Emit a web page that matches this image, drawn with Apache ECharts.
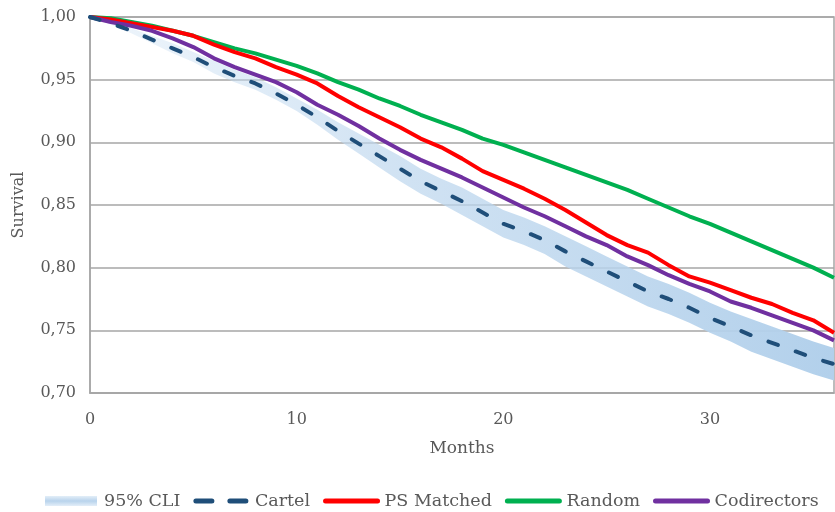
<!DOCTYPE html>
<html>
<head>
<meta charset="utf-8">
<script src="https://cdn.jsdelivr.net/npm/echarts@6/dist/echarts.min.js"></script>
<style>
html,body{margin:0;padding:0;background:#fff;}
#chart{width:835px;height:512px;}
</style>
</head>
<body>
<div id="chart"></div>
<script>
var months = [0,1,2,3,4,5,6,7,8,9,10,11,12,13,14,15,16,17,18,19,20,21,22,23,24,25,26,27,28,29,30,31,32,33,34,35,36];
var cartel = [1.000,0.995,0.989,0.982,0.975,0.968,0.960,0.953,0.947,0.939,0.930,0.920,0.909,0.899,0.889,0.879,0.869,0.861,0.853,0.844,0.835,0.829,0.822,0.813,0.805,0.797,0.789,0.781,0.775,0.768,0.760,0.753,0.746,0.740,0.734,0.728,0.723];
var cliHigh = [1.000,0.996,0.991,0.985,0.979,0.972,0.965,0.958,0.952,0.944,0.935,0.926,0.916,0.907,0.898,0.889,0.879,0.871,0.864,0.855,0.846,0.840,0.833,0.825,0.817,0.809,0.801,0.793,0.787,0.780,0.772,0.765,0.759,0.753,0.747,0.741,0.736];
var cliLow = [1.000,0.994,0.987,0.979,0.971,0.964,0.955,0.948,0.942,0.934,0.925,0.914,0.902,0.891,0.880,0.869,0.859,0.851,0.842,0.833,0.824,0.818,0.811,0.801,0.793,0.785,0.777,0.769,0.763,0.756,0.748,0.741,0.733,0.727,0.721,0.715,0.710];
var psMatched = [1.000,0.998,0.995,0.992,0.989,0.985,0.978,0.972,0.967,0.960,0.954,0.947,0.937,0.928,0.920,0.912,0.903,0.896,0.887,0.877,0.870,0.863,0.855,0.846,0.836,0.826,0.818,0.812,0.802,0.793,0.788,0.782,0.776,0.771,0.764,0.758,0.748];
var random = [1.000,0.999,0.996,0.993,0.989,0.985,0.980,0.975,0.971,0.966,0.961,0.955,0.948,0.942,0.935,0.929,0.922,0.916,0.910,0.903,0.898,0.892,0.886,0.880,0.874,0.868,0.862,0.855,0.848,0.841,0.835,0.828,0.821,0.814,0.807,0.800,0.792];
var codirectors = [1.000,0.996,0.993,0.989,0.983,0.976,0.967,0.960,0.954,0.948,0.940,0.930,0.922,0.913,0.903,0.894,0.886,0.879,0.872,0.864,0.856,0.848,0.841,0.833,0.825,0.818,0.809,0.802,0.794,0.787,0.781,0.773,0.768,0.762,0.756,0.750,0.742];
var yTicks = {min:0.70, max:1.00, interval:0.05};
var xTicks = {min:0, max:36, interval:10};

function pairs(arr){ return months.map(function(m,i){ return [m, arr[i]]; }); }
var bandData = months.map(function(m,i){ return [m, cliLow[i], cliHigh[i]]; });

var font = 'DejaVu Serif';
var textColor = '#595959';
var chart = echarts.init(document.getElementById('chart'), null, {renderer:'canvas'});

function renderBand(params, api){
  if (params.dataIndex !== 0) return null;
  var top = [], bottom = [];
  for (var i = 0; i < bandData.length; i++) {
    top.push(api.coord([bandData[i][0], bandData[i][2]]));
    bottom.push(api.coord([bandData[i][0], bandData[i][1]]));
  }
  var pts = top.concat(bottom.reverse());
  return {
    type:'polygon',
    shape:{points:pts},
    style:{
      fill:new echarts.graphic.LinearGradient(0,0,1,0,[
        {offset:0, color:'rgba(200,222,242,0.3)'},
        {offset:0.4, color:'rgba(190,215,238,0.7)'},
        {offset:1, color:'rgba(178,208,235,1)'}
      ])
    }
  };
}

var hiddenSym = {color:'rgba(0,0,0,0)', opacity:0, borderWidth:0};
chart.setOption({
  animation:false,
  backgroundColor:'#ffffff',
  textStyle:{fontFamily:font, color:textColor},
  grid:{left:90, right:1, top:17, bottom:119, show:true, borderColor:'#a6a6a6', borderWidth:1.5, containLabel:false},
  xAxis:{
    type:'value', min:xTicks.min, max:xTicks.max, interval:xTicks.interval,
    name:'Months', nameLocation:'middle', nameGap:47,
    nameTextStyle:{fontFamily:font, fontSize:17, color:textColor},
    axisLine:{show:true, lineStyle:{color:'#a6a6a6', width:1.5}},
    axisTick:{show:false},
    splitLine:{show:false},
    axisLabel:{fontFamily:font, fontSize:16, color:textColor, margin:19, showMaxLabel:false}
  },
  yAxis:{
    type:'value', min:yTicks.min, max:yTicks.max, interval:yTicks.interval,
    name:'Survival', nameLocation:'middle', nameGap:63, nameRotate:90,
    nameTextStyle:{fontFamily:font, fontSize:16, color:textColor},
    axisLine:{show:true, lineStyle:{color:'#a6a6a6', width:1.5}},
    axisTick:{show:false},
    splitLine:{show:true, lineStyle:{color:'#a6a6a6', width:1.5}},
    axisLabel:{fontFamily:font, fontSize:16, color:textColor, margin:14,
      formatter:function(v){ return v.toFixed(2).replace('.', ','); }}
  },
  legend:{
    top:487, left:40, itemWidth:52, itemHeight:10, itemGap:13,
    textStyle:{fontFamily:font, fontSize:17.5, color:textColor, padding:[0,0,0,2]},
    data:[
      {name:'95% CLI', icon:'rect', itemStyle:{color:new echarts.graphic.LinearGradient(0,0,0,1,[{offset:0,color:'#e3eef8'},{offset:0.5,color:'#b8d3ec'},{offset:1,color:'#e3eef8'}])}},
      {name:'Cartel', itemStyle:hiddenSym, lineStyle:{width:5, type:[16,18], cap:'round', color:'#1f4e79'}},
      {name:'PS Matched', itemStyle:hiddenSym, lineStyle:{width:5, cap:'round', color:'#ff0000'}},
      {name:'Random', itemStyle:hiddenSym, lineStyle:{width:5, cap:'round', color:'#00b050'}},
      {name:'Codirectors', itemStyle:hiddenSym, lineStyle:{width:5, cap:'round', color:'#7030a0'}}
    ]
  },
  series:[
    {name:'95% CLI', type:'custom', renderItem:renderBand, data:bandData, encode:{x:0, y:[1,2]}, clip:true, itemStyle:{color:'#bdd7ee'}, z:1},
    {name:'Random', type:'line', data:pairs(random), symbol:'none', lineStyle:{color:'#00b050', width:4}, itemStyle:{color:'#00b050'}, z:3},
    {name:'PS Matched', type:'line', data:pairs(psMatched), symbol:'none', lineStyle:{color:'#ff0000', width:4}, itemStyle:{color:'#ff0000'}, z:3},
    {name:'Codirectors', type:'line', data:pairs(codirectors), symbol:'none', lineStyle:{color:'#7030a0', width:4}, itemStyle:{color:'#7030a0'}, z:3},
    {name:'Cartel', type:'line', data:pairs(cartel), symbol:'none', lineStyle:{color:'#1f4e79', width:4, type:[10,19], cap:'round'}, itemStyle:{color:'#1f4e79'}, z:4}
  ]
});
</script>
</body>
</html>
